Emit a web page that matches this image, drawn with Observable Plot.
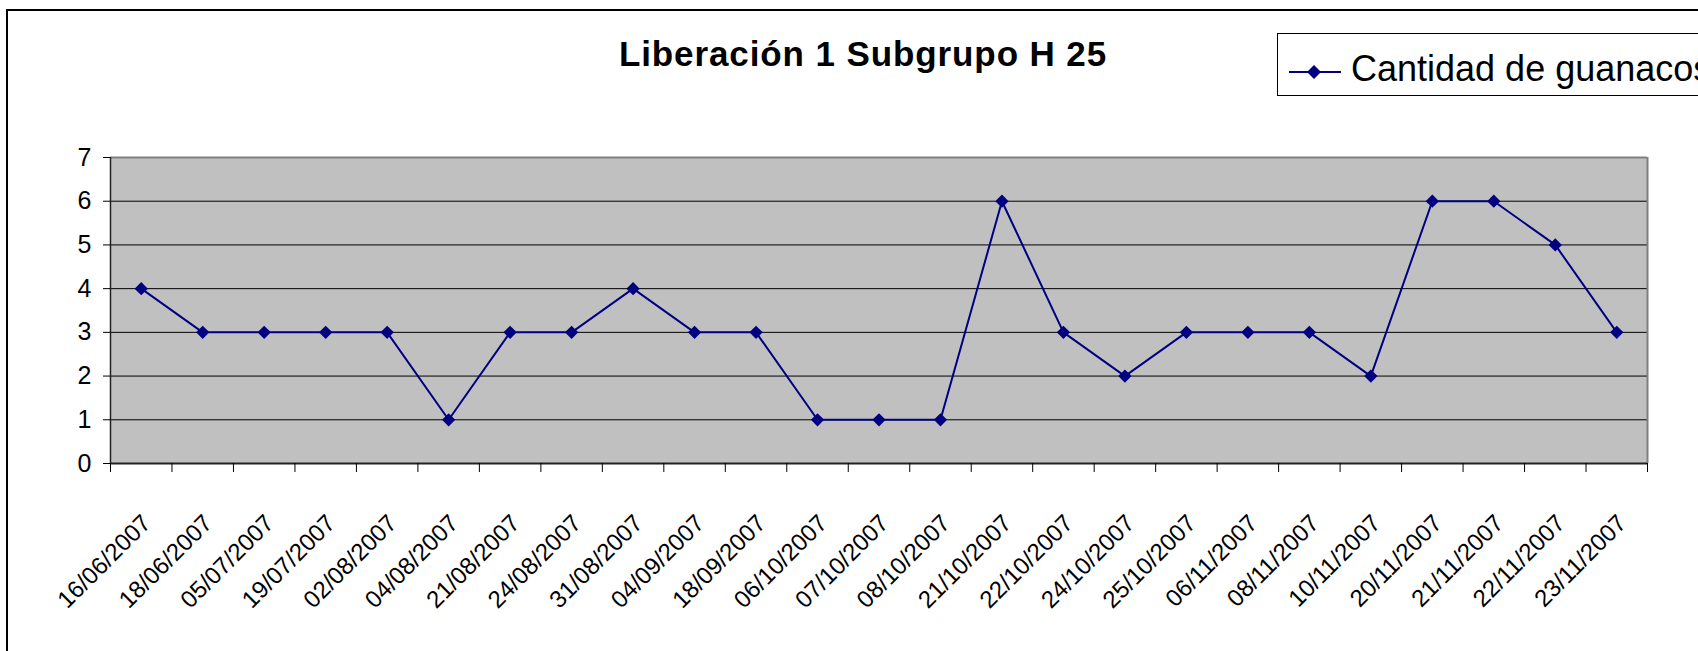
<!DOCTYPE html>
<html>
<head>
<meta charset="utf-8">
<script src="https://cdn.jsdelivr.net/npm/d3@7"></script>
<script src="https://cdn.jsdelivr.net/npm/@observablehq/plot@0.6"></script>
<style>
  html, body { margin: 0; padding: 0; background: #fff; }
  #wrap { position: relative; width: 1698px; height: 651px; overflow: hidden; background: #fff; font-family: "Liberation Sans", Arial, sans-serif; }
  #frame { position: absolute; left: 6px; top: 9px; width: 2000px; height: 1000px; border-left: 2px solid #000; border-top: 2px solid #000; box-sizing: border-box; }
  #title { position: absolute; left: 513px; width: 700px; top: 34px; text-align: center; font-weight: bold; font-size: 35px; letter-spacing: 0.9px; line-height: 40px; color: #000; white-space: nowrap; }
  #legend { position: absolute; left: 1277px; top: 33px; width: 600px; height: 63px; border: 1.5px solid #000; box-sizing: border-box; background: #fff; }
  #legend svg { position: absolute; left: 9px; top: 0; }
  #legend span { position: absolute; left: 73px; top: 15px; font-size: 36px; line-height: 40px; white-space: nowrap; color: #000; }
  #chart { position: absolute; left: 0; top: 0; }
</style>
</head>
<body>
<div id="wrap">
  <div id="frame"></div>
  <div id="chart"></div>
  <div id="title">Liberación 1 Subgrupo H 25</div>
  <div id="legend">
    <svg width="56" height="63"><line x1="2" y1="38" x2="54" y2="38" stroke="#000080" stroke-width="2"></line><path d="M27,31 L34,38 L27,45 L20,38 Z" fill="#000080"></path></svg>
    <span>Cantidad de guanacos</span>
  </div>
</div>
<script>
const dates = ["16/06/2007","18/06/2007","05/07/2007","19/07/2007","02/08/2007","04/08/2007","21/08/2007","24/08/2007","31/08/2007","04/09/2007","18/09/2007","06/10/2007","07/10/2007","08/10/2007","21/10/2007","22/10/2007","24/10/2007","25/10/2007","06/11/2007","08/11/2007","10/11/2007","20/11/2007","21/11/2007","22/11/2007","23/11/2007"];
const guanacos = [4,3,3,3,3,1,3,3,4,3,3,1,1,1,6,3,2,3,3,3,2,6,6,5,3];
const yTicks = [0,1,2,3,4,5,6,7];
const gridValues = [1,2,3,4,5,6];

const data = dates.map((d, i) => ({date: d, pos: i + 0.5, value: guanacos[i]}));
const n = dates.length;

const chart = Plot.plot({
  width: 1698,
  height: 651,
  marginLeft: 110,
  marginRight: 51,
  marginTop: 157,
  marginBottom: 188,
  style: {fontFamily: "'Liberation Sans', Arial, sans-serif", color: "#000", background: "transparent"},
  x: {type: "linear", domain: [0, n], axis: null},
  y: {domain: [0, 7], axis: null},
  marks: [
    Plot.frame({fill: "#c0c0c0", stroke: null}),
    Plot.ruleY(gridValues, {stroke: "#000", strokeWidth: 1}),
    Plot.ruleY([7], {stroke: "#808080", strokeWidth: 2}),
    Plot.ruleX([n], {stroke: "#808080", strokeWidth: 2}),
    Plot.ruleY([0], {stroke: "#222", strokeWidth: 2}),
    Plot.ruleX([0], {stroke: "#222", strokeWidth: 1.5}),
    Plot.axisY({ticks: yTicks, tickSize: 7, tickPadding: 12, fontSize: 25, tickFormat: d => String(d), stroke: "#000", label: null}),
    Plot.axisX({ticks: d3.range(n + 1), tickSize: 9, tickFormat: () => "", stroke: "#000", label: null}),
    Plot.text(data, {x: "pos", frameAnchor: "bottom", text: "date", rotate: -45, textAnchor: "end", lineAnchor: "top", dy: 49, dx: -1, fontSize: 24, fill: "#000"}),
    Plot.line(data, {x: "pos", y: "value", stroke: "#000080", strokeWidth: 2}),
    Plot.dot(data, {x: "pos", y: "value", symbol: "diamond2", r: 6, fill: "#000080", stroke: null})
  ]
});
document.getElementById("chart").appendChild(chart);
</script>
</body>
</html>
